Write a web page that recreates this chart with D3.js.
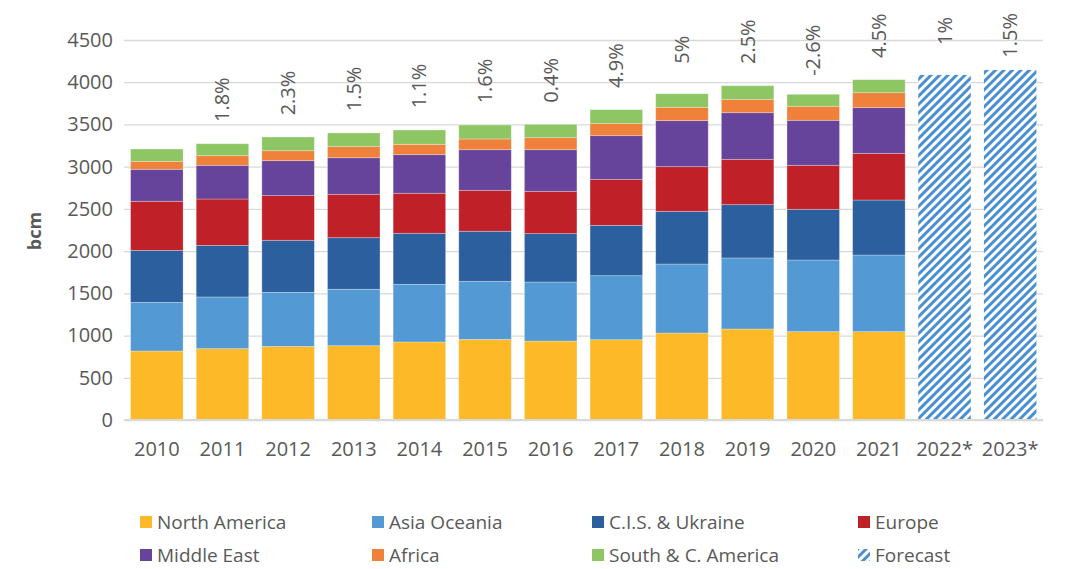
<!DOCTYPE html>
<html>
<head>
<meta charset="utf-8">
<script src="https://cdn.jsdelivr.net/npm/d3@7"></script>
<style>
  body { margin: 0; background: #fff; }
  text { font-family: "Open Sans", "Noto Sans", sans-serif; fill: #595959; }
</style>
</head>
<body>
<div id="chart"></div>
<script>
// categories and values (bcm)
var years = ["2010","2011","2012","2013","2014","2015","2016","2017","2018","2019","2020","2021","2022*","2023*"];
var growth = [null,"1.8%","2.3%","1.5%","1.1%","1.6%","0.4%","4.9%","5%","2.5%","-2.6%","4.5%","1%","1.5%"];

var northAmerica = [817, 845, 872, 880, 924, 955, 935, 951, 1030, 1078, 1046, 1046];
var asiaOceania  = [576, 612, 640, 668, 683, 687, 699, 758, 817, 841, 849, 908];
var cisUkraine   = [616, 611, 616, 611, 604, 593, 573, 596, 624, 631, 600, 651];
var europe       = [581, 549, 529, 514, 474, 485, 501, 545, 529, 537, 521, 553];
var middleEast   = [379, 399, 414, 433, 457, 481, 493, 517, 545, 552, 533, 541];
var africa       = [94, 114, 118, 131, 123, 127, 142, 146, 158, 158, 166, 177];
var southAmerica = [146, 142, 162, 162, 169, 165, 158, 162, 161, 162, 142, 154];
var forecast     = [4086, 4145];   // 2022*, 2023*

var yTicks = [0,500,1000,1500,2000,2500,3000,3500,4000,4500];

var seriesNames = ["North America","Asia Oceania","C.I.S. & Ukraine","Europe","Middle East","Africa","South & C. America"];
var seriesData = [northAmerica, asiaOceania, cisUkraine, europe, middleEast, africa, southAmerica];
var colors = ["#fdb927","#5399d4","#2c5f9e","#c02027","#67449b","#f0813a","#8dc663"];

var W = 1068, H = 569;
var margin = {top: 40, left: 124, right: 25, bottom: 149};
var plotW = W - margin.left - margin.right;
var plotH = H - margin.top - margin.bottom;

var svg = d3.select("#chart").append("svg")
    .attr("width", W).attr("height", H);

// hatch pattern for forecast bars
var defs = svg.append("defs");
var pat = defs.append("pattern")
    .attr("id", "hatch")
    .attr("patternUnits", "userSpaceOnUse")
    .attr("width", 6).attr("height", 6)
    .attr("patternTransform", "rotate(45)");
pat.append("rect").attr("width", 6).attr("height", 6).attr("fill", "#fff");
pat.append("rect").attr("width", 3).attr("height", 6).attr("fill", "#4a90d0");

var g = svg.append("g").attr("transform", "translate(" + margin.left + "," + margin.top + ")");

var x = d3.scaleBand().domain(years).range([0, plotW]).paddingInner(0.2).paddingOuter(0.1);
var y = d3.scaleLinear().domain([0, 4500]).range([plotH, 0]);

// table for the stack
var rows = northAmerica.map(function(d, i) {
    var r = {year: years[i]};
    seriesNames.forEach(function(s, j) { r[s] = seriesData[j][i]; });
    return r;
});
var stacked = d3.stack().keys(seriesNames)(rows);

// gridlines
g.append("g")
    .attr("class", "grid")
    .call(d3.axisLeft(y).tickValues(yTicks).tickSize(-plotW).tickFormat(""))
    .call(function(s) {
        s.select(".domain").remove();
        s.selectAll("line").attr("stroke", "#d9d9d9").attr("stroke-width", 1.3);
    });

// y axis labels
g.append("g")
    .call(d3.axisLeft(y).tickValues(yTicks).tickSize(0).tickPadding(11).tickFormat(d3.format("d")))
    .call(function(s) {
        s.select(".domain").remove();
        s.selectAll("text").style("font-size", "20px").attr("fill", "#595959");
    });

// stacked bars
g.selectAll(".layer")
    .data(stacked)
    .enter().append("g")
    .attr("class", "layer")
    .attr("fill", function(d, i) { return colors[i]; })
    .selectAll("rect")
    .data(function(d) { return d; })
    .enter().append("rect")
    .attr("x", function(d) { return x(d.data.year); })
    .attr("y", function(d) { return y(d[1]); })
    .attr("height", function(d) { return y(d[0]) - y(d[1]); })
    .attr("width", x.bandwidth())
    .attr("stroke", "rgba(255,255,255,0.35)")
    .attr("stroke-width", 0.8);

// forecast bars
var fcYears = years.slice(northAmerica.length);
g.selectAll(".fc")
    .data(forecast)
    .enter().append("rect")
    .attr("class", "fc")
    .attr("x", function(d, i) { return x(fcYears[i]); })
    .attr("y", function(d) { return y(d); })
    .attr("width", x.bandwidth())
    .attr("height", function(d) { return y(0) - y(d); })
    .attr("fill", "url(#hatch)");

// baseline
g.append("line")
    .attr("x1", 0).attr("x2", plotW)
    .attr("y1", y(0)).attr("y2", y(0))
    .attr("stroke", "#d9d9d9").attr("stroke-width", 2);

// x axis labels
g.append("g")
    .attr("transform", "translate(0," + plotH + ")")
    .call(d3.axisBottom(x).tickSize(0).tickPadding(22))
    .call(function(s) {
        s.select(".domain").remove();
        s.selectAll("text").style("font-size", "20px").attr("fill", "#595959");
    });

// growth labels, rotated above each bar
var totals = stacked[stacked.length - 1].map(function(d) { return d[1]; }).concat(forecast);
g.selectAll(".growth")
    .data(growth.map(function(d, i) { return {label: d, i: i}; }).filter(function(d) { return d.label; }))
    .enter().append("text")
    .attr("class", "growth")
    .attr("text-anchor", "middle")
    .attr("dy", "0.35em")
    .style("font-size", "20px")
    .text(function(d) { return d.label; })
    .each(function(d) {
        var len = this.getComputedTextLength();
        var cx = x(years[d.i]) + x.bandwidth() / 2;
        var cy = Math.max(y(totals[d.i]) - 44, -27 + len / 2);
        d3.select(this).attr("transform", "translate(" + cx + "," + cy + ") rotate(-90)");
    });

// y axis title
svg.append("text")
    .attr("transform", "translate(35,231) rotate(-90)")
    .attr("text-anchor", "middle")
    .attr("dy", "0.35em")
    .style("font-size", "18px")
    .style("font-weight", "bold")
    .text("bcm");

// legend
var legendItems = seriesNames.concat(["Forecast"]);
var legendCols = [140, 372, 592, 858];
var legendRows = [522, 555];
var legend = svg.append("g").attr("class", "legend");
legendItems.forEach(function(name, k) {
    var col = k % 4, row = Math.floor(k / 4);
    var item = legend.append("g")
        .attr("transform", "translate(" + legendCols[col] + "," + legendRows[row] + ")");
    item.append("rect")
        .attr("x", 0).attr("y", -6)
        .attr("width", 12).attr("height", 12)
        .attr("fill", name === "Forecast" ? "url(#hatch)" : colors[seriesNames.indexOf(name)]);
    item.append("text")
        .attr("x", 17).attr("dy", "0.35em")
        .style("font-size", "19px")
        .text(name);
});
</script>
</body>
</html>
